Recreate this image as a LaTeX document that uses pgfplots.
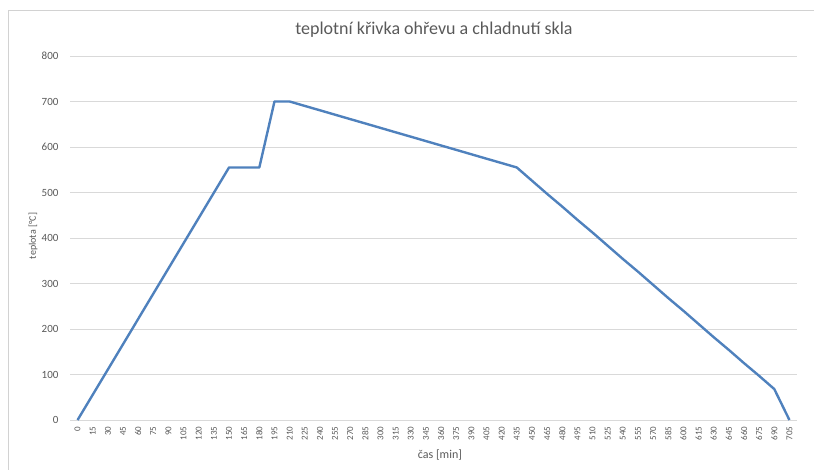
\documentclass[border=0pt]{standalone}
\usepackage{fontspec}
\setmainfont{Carlito}
\usepackage{pgfplots}
\pgfplotsset{compat=1.18}
\definecolor{txtgray}{HTML}{595959}
\definecolor{gridgray}{HTML}{D9D9D9}
\definecolor{linblue}{HTML}{4F81BD}
\begin{document}
\begin{tikzpicture}[x=1pt,y=1pt]
\useasboundingbox (0,0) rectangle (814,470);
\draw[gray!35, line width=0.8pt] (8.5,0) -- (8.5,460) -- (814,460);
\begin{axis}[
  at={(70pt,50pt)}, anchor=south west,
  scale only axis, width=727pt, height=364pt,
  xmin=-7.5, xmax=712.5, ymin=0, ymax=800,
  xtick={0,15,...,705}, ytick={0,100,...,800},
  ymajorgrids, grid style={draw=gridgray, line width=0.8pt},
  axis line style={draw=none},
  tick style={draw=none},
  /pgf/number format/assume math mode=true,
  xticklabel style={rotate=90, anchor=east, font=\fontsize{9}{9}\selectfont, text=txtgray, xshift=-3pt},
  yticklabel style={font=\fontsize{11}{11}\selectfont, text=txtgray, xshift=-8pt},
  clip=false,
]
\addplot[linblue, line width=2.4pt, line join=round] coordinates {
(0,0) (15,55.5) (30,111) (45,166.5) (60,222) (75,277.5) (90,333) (105,388.5)
(120,444) (135,499.5) (150,555) (165,555) (180,555) (195,700) (210,700)
(225,690.3) (240,680.7) (255,671) (270,661.3) (285,651.7) (300,642) (315,632.3)
(330,622.7) (345,613) (360,603.3) (375,593.7) (390,584) (405,574.3) (420,564.7)
(435,555) (450,526) (465,497) (480,469) (495,440) (510,412) (525,383) (540,354)
(555,326) (570,297) (585,268) (600,240) (615,211) (630,182) (645,154) (660,125)
(675,97) (690,68) (705,0)
};
\end{axis}
\node[text=txtgray, font=\fontsize{18}{19}\selectfont] at (434,440) {teplotní křivka ohřevu a chladnutí skla};
\node[text=txtgray, font=\fontsize{10}{11}\selectfont, rotate=90] at (33,234) {teplota [°C]};
\node[text=txtgray, font=\fontsize{12}{13}\selectfont] at (440,15) {čas [min]};
\end{tikzpicture}
\end{document}
